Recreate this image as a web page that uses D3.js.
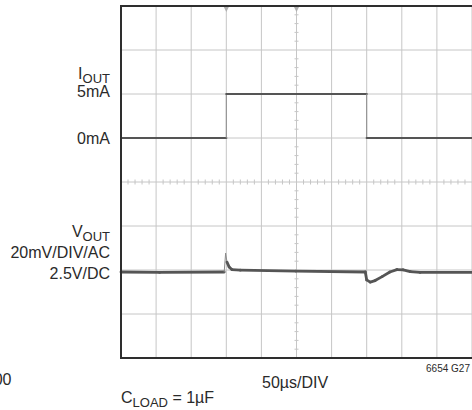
<!DOCTYPE html>
<html lang="en">
<head>
<meta charset="UTF-8">
<title>Load transient</title>
<script src="https://d3js.org/d3.v7.min.js"></script>
<style>
  body { margin: 0; background: #fff; }
  svg { display: block; }
  text { font-family: 'Liberation Sans', Arial, sans-serif; fill: #2a2a2a; }
</style>
</head>
<body>
<div id="chart"></div>
<script>
  // time in µs (50µs/DIV, 10 divisions)
  const iTime = [0, 150, 150, 350, 350, 500];
  const iOut = [0, 0, 5, 5, 0, 0];                 // mA

  const vTime = [0, 55, 147, 149, 151, 154, 158, 170, 249, 348, 350, 355, 362, 372, 383, 393, 402, 412, 426, 500];
  const vOut = [-0.9, -1.1, -0.9, 7.5, 3.6, 1.4, 0.2, -0.1, -0.5, -0.9, -4.5, -5.5, -4.8, -3.0, -0.9, 0.2, 0.1, -0.7, -1.1, -1.1]; // mV, AC

  const xDivs = d3.range(0, 501, 50);
  const yDivs = d3.range(-4, 5);

  const W = 472, H = 410;
  const plotL = 121, plotR = 472, plotT = 6, plotB = 358;

  const svg = d3.select("#chart").append("svg")
    .attr("width", W).attr("height", H);

  const x = d3.scaleLinear().domain([0, 500]).range([plotL, plotR]);
  const yDiv = d3.scaleLinear().domain([-4, 4]).range([plotB, plotT]);
  // IOUT: 5mA/div, 0mA one division above centre
  const yI = d3.scaleLinear().domain([-25, 15]).range([plotB, plotT]);
  // VOUT: 20mV/div, 0mV two divisions below centre
  const yV = d3.scaleLinear().domain([-40, 120]).range([plotB, plotT]);

  const grid = svg.append("g").attr("stroke", "#c6c6c6").attr("stroke-width", 1);
  grid.selectAll(".vx").data(xDivs.slice(1)).enter().append("line")
    .attr("x1", d => x(d)).attr("x2", d => x(d))
    .attr("y1", plotT).attr("y2", plotB);
  grid.selectAll(".hy").data(yDivs.slice(1, -1)).enter().append("line")
    .attr("x1", plotL).attr("x2", plotR)
    .attr("y1", d => yDiv(d)).attr("y2", d => yDiv(d));

  // minor ticks on centre axes
  const xMinor = d3.range(0, 501, 10).filter(t => t % 50 !== 0);
  const yMinor = d3.range(-4, 4.01, 0.2).filter(v => Math.abs(v - Math.round(v)) > 0.01);
  grid.selectAll(".mx").data(xMinor).enter().append("line")
    .attr("x1", d => x(d)).attr("x2", d => x(d))
    .attr("y1", yDiv(0) - 2.5).attr("y2", yDiv(0) + 2.5);
  grid.selectAll(".my").data(yMinor).enter().append("line")
    .attr("x1", x(250) - 2).attr("x2", x(250) + 2)
    .attr("y1", d => yDiv(d)).attr("y2", d => yDiv(d));

  // trigger / centre markers
  svg.selectAll(".mark").data([150, 250]).enter().append("path")
    .attr("d", d => `M${x(d) - 2.5},${plotT + 1}L${x(d) + 2.5},${plotT + 1}L${x(d)},${plotT + 6}Z`)
    .attr("fill", "#b0b0b0");

  // traces: flat parts thick, fast edges thin
  function drawTrace(ts, vs, y, w) {
    const pts = ts.map((t, i) => [x(t), y(vs[i])]);
    const segs = d3.pairs(pts);
    const steep = d => Math.abs(d[1][1] - d[0][1]) > 3 * Math.abs(d[1][0] - d[0][0]) + 4;
    svg.append("g").selectAll("line").data(segs).enter().append("line")
      .attr("x1", d => d[0][0]).attr("y1", d => d[0][1])
      .attr("x2", d => d[1][0]).attr("y2", d => d[1][1])
      .attr("stroke", d => steep(d) ? "#8a8a8a" : "#555")
      .attr("stroke-width", d => steep(d) ? 1 : w)
      .attr("stroke-linecap", "round");
  }
  drawTrace(iTime, iOut, yI, 2.2);
  drawTrace(vTime, vOut, yV, 2.8);

  // frame (right edge falls outside the picture)
  svg.append("path")
    .attr("d", `M${plotR + 2},${plotT}H${plotL}V${plotB}H${plotR + 2}`)
    .attr("fill", "none").attr("stroke", "#2e2e2e").attr("stroke-width", 2);

  // labels
  function label(xp, yp, main, sub, rest, anchor) {
    const t = svg.append("text").attr("x", xp).attr("y", yp)
      .attr("text-anchor", anchor || "end").style("font-size", "16px");
    t.append("tspan").text(main);
    if (sub) t.append("tspan").attr("dy", 3.5).style("font-size", "13px").text(sub);
    if (rest) t.append("tspan").attr("dy", -3.5).text(rest);
    return t;
  }
  label(110, 79, "I", "OUT");
  label(110, 97, "5mA");
  label(110, 144, "0mA");
  label(110, 237, "V", "OUT");
  label(110, 258, "20mV/DIV/AC");
  label(110, 279, "2.5V/DC");
  label(11.5, 385, "00");
  label(121, 403, "C", "LOAD", " = 1µF", "start");
  label(262, 388, "50µs/DIV", null, null, "start");
  svg.append("text").attr("x", 470).attr("y", 372)
    .attr("text-anchor", "end")
    .style("font-size", "10px").style("font-family", "'Liberation Sans Narrow', 'Liberation Sans', sans-serif")
    .text("6654 G27");
</script>
</body>
</html>
